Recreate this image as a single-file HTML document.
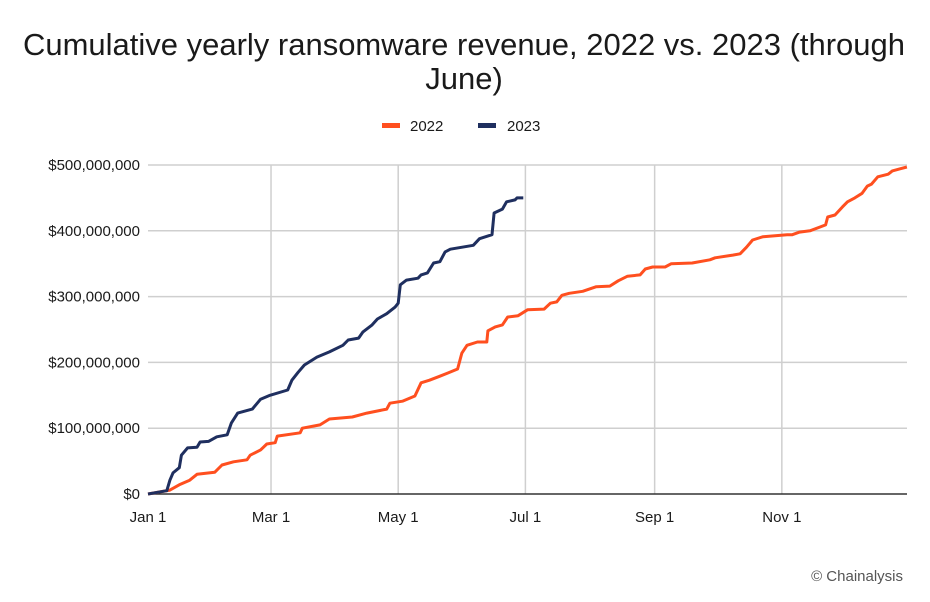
<!DOCTYPE html>
<html><head><meta charset="utf-8"><style>
body{margin:0;background:#fff;font-family:"Liberation Sans",sans-serif;}
svg text{font-family:"Liberation Sans",sans-serif;fill:#1a1a1a;}
</style></head><body>
<svg id="chart" width="930" height="597" viewBox="0 0 930 597" xmlns="http://www.w3.org/2000/svg">
<text x="464" y="55" text-anchor="middle" font-size="31" textLength="882" lengthAdjust="spacingAndGlyphs">Cumulative yearly ransomware revenue, 2022 vs. 2023 (through</text>
<text x="464" y="89" text-anchor="middle" font-size="31">June)</text>
<g>
<rect x="382" y="123" width="18" height="5" fill="#ff4f1f"/>
<text x="410" y="131" font-size="15">2022</text>
<rect x="478" y="123" width="18" height="5" fill="#1f2f5f"/>
<text x="507" y="131" font-size="15">2023</text>
</g>
<g id="grid"></g><g id="series"></g><g id="labels"></g>
<text x="903" y="581" text-anchor="end" font-size="15" style="fill:#555">© Chainalysis</text>
</svg>
<script>
const yTicks=[0,100,200,300,400,500];
const yTickLabels=["$0","$100,000,000","$200,000,000","$300,000,000","$400,000,000","$500,000,000"];
const xTickDays=[0,59,120,181,243,304];
const xTickLabels=["Jan 1","Mar 1","May 1","Jul 1","Sep 1","Nov 1"];
const days2022=[0,10.5,15,20,23.5,32,35.5,41,47.5,49,54,57,61,62,73,74,82.5,87,98,105,114.5,116,122,128,131,135,140,144,148.5,150.5,153,158,162.5,163,166.5,170,172.5,177.5,182,190,193,196,198.5,202,208.5,215,221.5,225.5,230,236,238.5,242,248,251,261,269.5,272,280.5,284,287,290,295,306.5,309,312.5,317.5,322.5,325,326,329.5,333,335.5,339,342.5,345,347,350,355,357,360.5,364];
const values2022=[0,6,14,21,30,33,44,49,52,59,67,76,78,88,93,100,105,114,117,123,129,138,141,149,169,173,179,184,190,214,226,231,231,248,254,257,269,271,280,281,290,292,302,305,308,315,316,324,331,333,342,345,345,350,351,356,359,363,365,375,386,391,394,394,398,400,406,409,421,424,436,444,450,457,468,471,482,486,491,494,497];
const days2023=[0,9,10.5,12,15,16,19,23.5,25,29,33,38,40,43,50,54,58.5,67,69,72,75,81,87,93.5,96,101,103,107.5,110,114.5,118.5,120,121,124,129.5,131,134,137,140,142.5,145,156,159,165,166,170,172,176,177,180];
const values2023=[0,5,21,32,40,59,70,71,79,80,87,90,108,123,129,144,150,158,173,185,196,208,216,226,234,237,246,257,266,274,284,290,318,325,328,333,336,351,353,368,372,378,388,394,427,433,444,447,450,450];
const X=d=>148+d*2.085, Y=v=>494-v*0.658;
const NS="http://www.w3.org/2000/svg";
const grid=document.getElementById('grid'),series=document.getElementById('series'),labels=document.getElementById('labels');
function mk(tag,attrs,parent){const e=document.createElementNS(NS,tag);for(const k in attrs)e.setAttribute(k,attrs[k]);parent.appendChild(e);return e;}
yTicks.forEach((v,i)=>{
  if(v>0){const l=mk('line',{x1:148,x2:907,y1:Y(v),y2:Y(v),stroke:'#cfcfcf','stroke-width':1.5},grid);
  
  }
  const t=mk('text',{x:140,y:Y(v)+5,'text-anchor':'end','font-size':15},labels);
  
  
  t.textContent=yTickLabels[i];
});
xTickDays.forEach((d,i)=>{
  if(d>0){const l=mk('line',{x1:X(d),x2:X(d),y1:165,y2:494,stroke:'#cfcfcf','stroke-width':1.5},grid);
  
  }
  const t=mk('text',{x:X(d),y:522,'text-anchor':'middle','font-size':15},labels);
  
  
  t.textContent=xTickLabels[i];
});
const ax=mk('line',{x1:148,x2:907,y1:494,y2:494,stroke:'#333','stroke-width':1.5},grid);


function path(ds,vs){return ds.map((d,i)=>(i?'L':'M')+X(d).toFixed(1)+','+Y(vs[i]).toFixed(1)).join('');}
const p22=mk('path',{d:path(days2022,values2022),fill:'none',stroke:'#ff4f1f','stroke-width':3,'stroke-linejoin':'round'},series);


const p23=mk('path',{d:path(days2023,values2023),fill:'none',stroke:'#1f2f5f','stroke-width':3,'stroke-linejoin':'round'},series);


</script>
</body></html>
